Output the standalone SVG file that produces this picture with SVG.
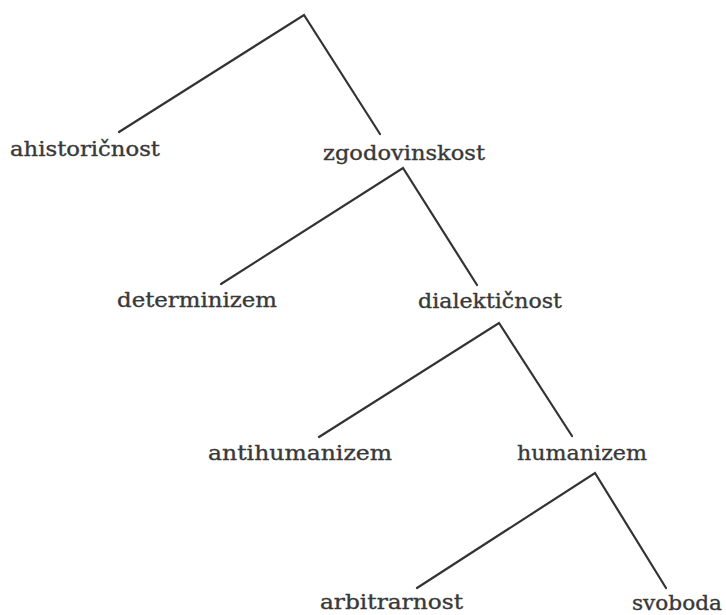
<svg xmlns="http://www.w3.org/2000/svg" width="726" height="615" viewBox="0 0 726 615">
<style>
.bg{fill:#ffffff}
.lbl{font-family:"DejaVu Serif","Liberation Serif",serif;font-size:20px;fill:#383838;stroke:#383838;stroke-width:0.35}
.edge{stroke:#333333;stroke-width:2.2;fill:none;stroke-linecap:round;stroke-linejoin:miter}
</style>
<rect class="bg" x="0" y="0" width="726" height="615"/>
<g id="connectors">
<polyline class="edge" points="119,132 304,15 380,134"/>
<polyline class="edge" points="221,284 403,168 477,285"/>
<polyline class="edge" points="319,437 499,323 572,436"/>
<polyline class="edge" points="417,588 595,473 666,588"/>
</g>
<g id="ahistoricnost"><text class="lbl" x="10" y="156" textLength="150" lengthAdjust="spacingAndGlyphs">ahistoričnost</text></g>
<g id="zgodovinskost"><text class="lbl" x="323" y="160" textLength="162" lengthAdjust="spacingAndGlyphs">zgodovinskost</text></g>
<g id="determinizem"><text class="lbl" x="117" y="307" textLength="160" lengthAdjust="spacingAndGlyphs">determinizem</text></g>
<g id="dialekticnost"><text class="lbl" x="418" y="308" textLength="144" lengthAdjust="spacingAndGlyphs">dialektičnost</text></g>
<g id="antihumanizem"><text class="lbl" x="208" y="460" textLength="184" lengthAdjust="spacingAndGlyphs">antihumanizem</text></g>
<g id="humanizem"><text class="lbl" x="517" y="460" textLength="130" lengthAdjust="spacingAndGlyphs">humanizem</text></g>
<g id="arbitrarnost"><text class="lbl" x="320" y="609" textLength="143" lengthAdjust="spacingAndGlyphs">arbitrarnost</text></g>
<g id="svoboda"><text class="lbl" x="632" y="610" textLength="90" lengthAdjust="spacingAndGlyphs">svoboda</text></g>
</svg>
